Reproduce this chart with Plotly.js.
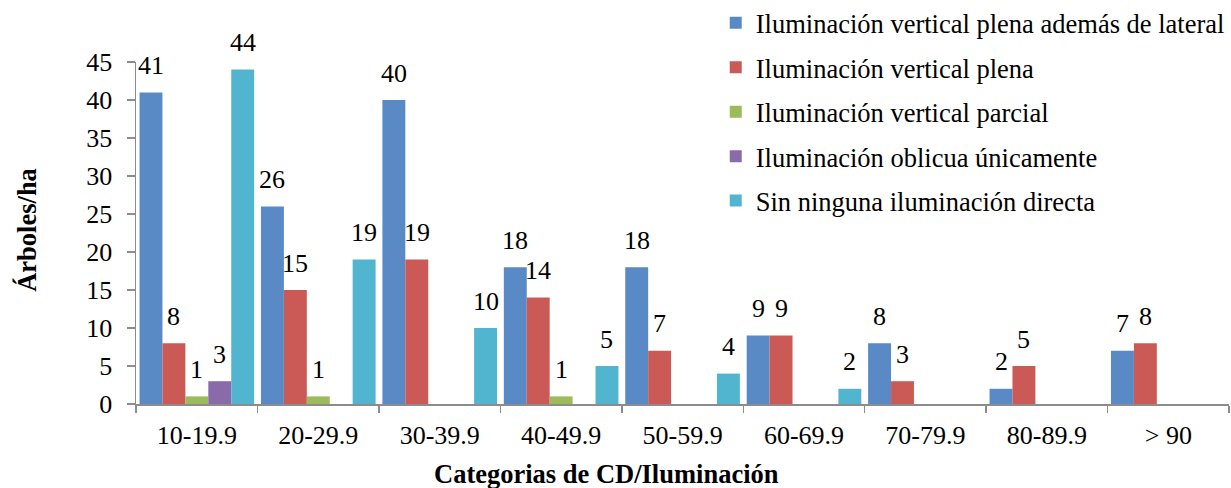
<!DOCTYPE html>
<html>
<head>
<meta charset="utf-8">
<script src="https://cdn.plot.ly/plotly-3.0.1.min.js"></script>
<style>
  html, body { margin: 0; padding: 0; background: #ffffff; }
  #chart { width: 1231px; height: 488px; }
</style>
</head>
<body>
<div id="chart"></div>
<script>
// Diameter classes (CD) on the x axis
const categories = ['10-19.9', '20-29.9', '30-39.9', '40-49.9', '50-59.9', '60-69.9', '70-79.9', '80-89.9', '> 90'];

// Trees per hectare for each crown illumination class
const plenaLateral = [41, 26, 40, 18, 18, 9, 8, 2, 7];
const plena        = [8, 15, 19, 14, 7, 9, 3, 5, 8];
const parcial      = [1, 1, 0, 1, 0, 0, 0, 0, 0];
const oblicua      = [3, 0, 0, 0, 0, 0, 0, 0, 0];
const sinDirecta   = [44, 19, 10, 5, 4, 2, 0, 0, 0];

const seriesNames = [
  'Iluminación vertical plena además de lateral',
  'Iluminación vertical plena',
  'Iluminación vertical parcial',
  'Iluminación oblicua únicamente',
  'Sin ninguna iluminación directa'
];
const seriesValues = [plenaLateral, plena, parcial, oblicua, sinDirecta];

const yTickVals = [0, 5, 10, 15, 20, 25, 30, 35, 40, 45];

// Styling
const colors = ['#5A8AC6', '#CB5A56', '#9CBB5A', '#896BAA', '#52B5D0'];
const FONT = 'Liberation Serif';
const AXIS_GRAY = '#8C8C8C';
const BAR_GAP = 0.056;

const traces = seriesNames.map((name, i) => ({
  type: 'bar',
  name: name,
  x: categories,
  y: seriesValues[i],
  legendgroup: 'g' + i,
  marker: { color: colors[i] },
  hoverinfo: 'skip'
}));

// Value labels above each non-zero bar, placed at the bar's own data position
const nSeries = seriesValues.length;
const barWidth = (1 - BAR_GAP) / nSeries;
const labelAnnotations = [];
seriesValues.forEach((vals, i) => {
  const offset = -(1 - BAR_GAP) / 2 + (i + 0.5) * barWidth;
  vals.forEach((v, j) => {
    if (v > 0) {
      labelAnnotations.push({
        xref: 'x', yref: 'y',
        x: j + offset, y: v,
        text: String(v),
        showarrow: false,
        xanchor: 'center', yanchor: 'middle',
        yshift: 27,
        font: { family: FONT, size: 26, color: '#000000' }
      });
    }
  });
});

const titleAnnotations = [
  {
    xref: 'paper', yref: 'paper',
    x: (27 - 136) / 1093.5, y: (404.5 - 230) / 342.5,
    text: 'Árboles/ha',
    textangle: -90,
    showarrow: false,
    xanchor: 'center', yanchor: 'middle',
    font: { family: FONT, size: 26.5, color: '#000000', weight: 'bold' }
  },
  {
    xref: 'paper', yref: 'paper',
    x: (606.5 - 136) / 1093.5, y: (404.5 - 475) / 342.5,
    text: 'Categorias de CD/Iluminación',
    showarrow: false,
    xanchor: 'center', yanchor: 'middle',
    font: { family: FONT, size: 26.5, color: '#000000', weight: 'bold' }
  }
];

const layout = {
  width: 1231,
  height: 488,
  margin: { l: 136, r: 2, t: 62, b: 84, autoexpand: false },
  paper_bgcolor: '#ffffff',
  plot_bgcolor: '#ffffff',
  barmode: 'group',
  bargap: BAR_GAP,
  bargroupgap: 0,
  font: { family: FONT, size: 26, color: '#000000' },
  showlegend: true,
  legend: {
    x: (716 - 136) / 1093.5,
    xanchor: 'left',
    y: 1 + (62 + 1) / 342.5,
    yanchor: 'top',
    bgcolor: 'rgba(0,0,0,0)',
    font: { family: FONT, size: 26.5, color: '#000000' },
    traceorder: 'grouped',
    tracegroupgap: 7
  },
  xaxis: {
    type: 'category',
    showline: true,
    linecolor: AXIS_GRAY,
    linewidth: 1.5,
    ticks: 'outside',
    tickson: 'boundaries',
    ticklen: 7,
    tickcolor: AXIS_GRAY,
    tickwidth: 1.5,
    ticklabelstandoff: 7,
    showgrid: false,
    zeroline: false,
    tickfont: { family: FONT, size: 26, color: '#000000' }
  },
  yaxis: {
    range: [0, 45],
    tickvals: yTickVals,
    showline: true,
    linecolor: AXIS_GRAY,
    linewidth: 1.5,
    ticks: 'outside',
    ticklen: 8,
    tickcolor: AXIS_GRAY,
    tickwidth: 1.5,
    ticklabelstandoff: 9,
    showgrid: false,
    zeroline: false,
    tickfont: { family: FONT, size: 26, color: '#000000' }
  },
  annotations: labelAnnotations.concat(titleAnnotations)
};

Plotly.newPlot('chart', traces, layout, { displayModeBar: false, staticPlot: true });
</script>
</body>
</html>
